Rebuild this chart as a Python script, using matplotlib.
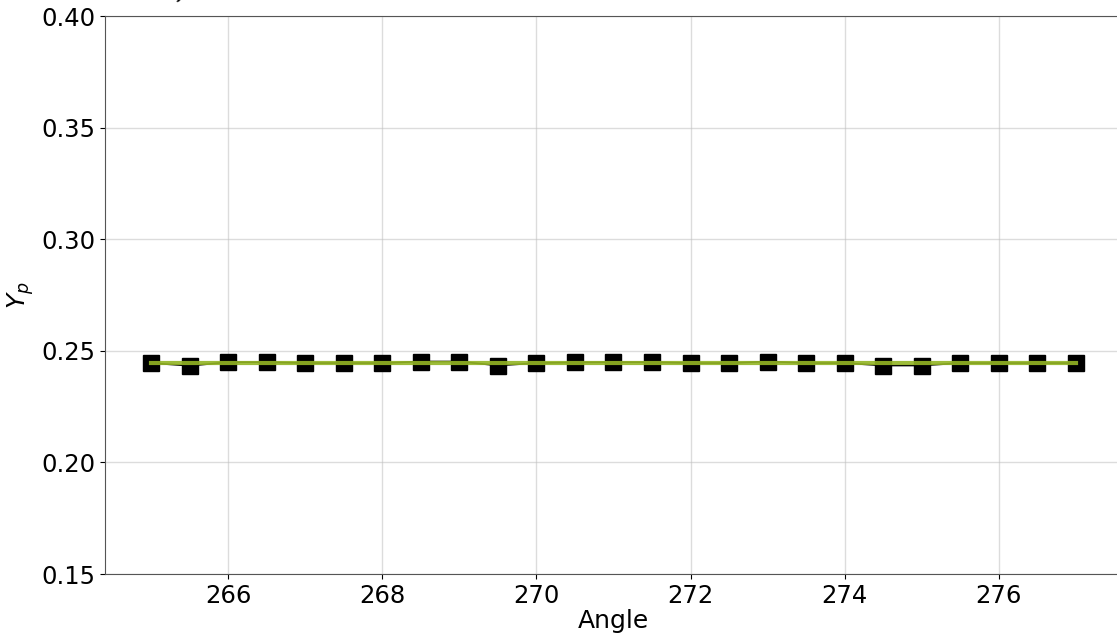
import matplotlib
matplotlib.use("Agg")
import matplotlib.pyplot as plt
import numpy as np

angles = [265, 265.5, 266, 266.5, 267, 267.5, 268, 268.5, 269, 269.5,
          270, 270.5, 271, 271.5, 272, 272.5, 273, 273.5, 274, 274.5,
          275, 275.5, 276, 276.5, 277]
yp = [0.2445, 0.2433, 0.2449, 0.2449, 0.2445, 0.2445, 0.2445, 0.2452, 0.2452, 0.2434,
      0.2445, 0.2448, 0.2449, 0.2449, 0.2445, 0.2445, 0.2452, 0.2445, 0.2445, 0.2434,
      0.2434, 0.2445, 0.2445, 0.2445, 0.2445]
yp_mean = 0.2446
yticks = [0.15, 0.20, 0.25, 0.30, 0.35, 0.40]
xticks = [266, 268, 270, 272, 274, 276]

fig = plt.figure(figsize=(11.17, 6.34), dpi=100)
ax = fig.add_axes([105/1117, 60/634, 1017/1117, 558/634])

ax.plot(angles, yp, color='black', marker='s', markersize=12, linewidth=1.2, zorder=3)
ax.plot(angles, [yp_mean]*len(angles), color='#93b524', linewidth=3, alpha=0.9, zorder=4)

ax.set_ylim(0.15, 0.40)
ax.set_yticks(yticks)
ax.set_yticklabels([f"{v:.2f}" for v in yticks])
ax.set_xticks(xticks)
ax.grid(True, color='#c0c0c0', alpha=0.55, linewidth=1)
ax.set_axisbelow(True)
ax.tick_params(labelsize=17.5)
ax.set_xlabel('Angle', fontsize=18, labelpad=1)
ax.set_ylabel('$Y_p$', fontsize=18)
for s in ax.spines.values():
    s.set_color('#555555')

fig.text(182/1117, 1.012, ')', fontsize=18, ha='center', va='center', rotation=-20)

fig.savefig('out.png', dpi=100)
